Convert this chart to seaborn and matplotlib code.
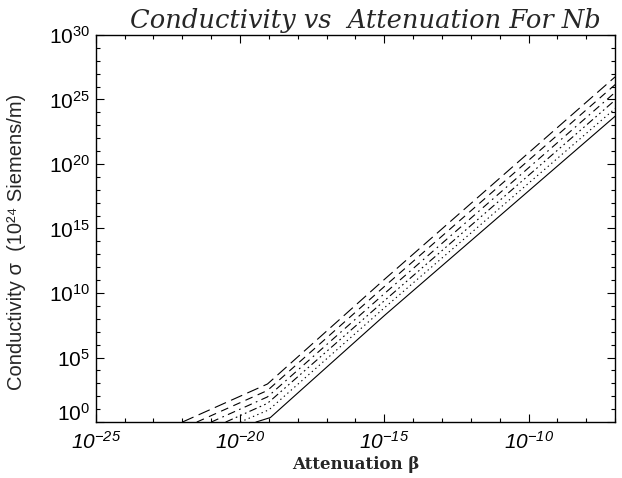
import numpy as np
import pandas as pd
import matplotlib
matplotlib.use("Agg")
import matplotlib.pyplot as plt
import matplotlib.ticker as mticker
import matplotlib.transforms as mtransforms
import seaborn as sns

# ---- data (log10 values of vertices) ----
curves = ["c1", "c2", "c3", "c4", "c5", "c6"]
log_beta = {
    "c1": [-22.0, -19.05, -15.0, -7.0],
    "c2": [-21.5, -19.05, -15.0, -7.0],
    "c3": [-21.0, -19.05, -15.0, -7.0],
    "c4": [-20.5, -19.05, -15.0, -7.0],
    "c5": [-20.0, -19.0, -15.0, -7.0],
    "c6": [-19.45, -18.95, -15.0, -7.0],
}
log_sigma = {
    "c1": [0.0, 2.95, 11.05, 26.75],
    "c2": [0.0, 2.45, 10.5, 26.15],
    "c3": [0.0, 1.95, 9.95, 25.55],
    "c4": [0.0, 1.45, 9.4, 24.95],
    "c5": [0.0, 0.95, 8.85, 24.3],
    "c6": [0.0, 0.35, 8.25, 23.7],
}
x_major = [1e-25, 1e-20, 1e-15, 1e-10]
y_major = [1e0, 1e5, 1e10, 1e15, 1e20, 1e25, 1e30]
title = "Conductivity vs  Attenuation For Nb"
xlabel = "Attenuation \u03b2"
ylabel = "Conductivity \u03c3  (10\u00b2\u2074 Siemens/m)"

rows = []
for c in curves:
    for lb, ls in zip(log_beta[c], log_sigma[c]):
        rows.append({"beta": 10.0 ** lb, "sigma": 10.0 ** ls, "curve": c})
df = pd.DataFrame(rows)

sns.set_theme(style="white")
plt.rcParams["font.family"] = ["Liberation Sans", "DejaVu Sans"]
plt.rcParams["mathtext.fontset"] = "custom"
plt.rcParams["mathtext.rm"] = "Liberation Sans"
plt.rcParams["mathtext.it"] = "Liberation Sans:italic"

fig = plt.figure(figsize=(6.22, 4.78), dpi=100)
ax = fig.add_axes([0.154, 0.117, 0.835, 0.81])

dashes = {
    "c1": (11, 5),
    "c2": (7, 5),
    "c3": (7, 4, 1.5, 4),
    "c4": (7, 3, 1.5, 3, 1.5, 3, 1.5, 3),
    "c5": (1.2, 3),
    "c6": "",
}
sns.lineplot(data=df, x="beta", y="sigma", style="curve", dashes=dashes,
             color="black", linewidth=0.8, legend=False, sort=False,
             estimator=None, ax=ax)

ax.set_xscale("log")
ax.set_yscale("log")
ax.set_xlim(1e-25, 1e-7)
ax.set_ylim(1e0, 1e30)

ax.xaxis.set_major_locator(mticker.FixedLocator(x_major))
ax.yaxis.set_major_locator(mticker.FixedLocator(y_major))
ax.xaxis.set_minor_locator(mticker.LogLocator(base=10, subs=(1.0,), numticks=100))
ax.yaxis.set_minor_locator(mticker.LogLocator(base=10, subs=(1.0,), numticks=100))
ax.xaxis.set_major_formatter(mticker.LogFormatterSciNotation(base=10))
ax.yaxis.set_major_formatter(mticker.LogFormatterSciNotation(base=10))
ax.xaxis.set_minor_formatter(mticker.NullFormatter())
ax.yaxis.set_minor_formatter(mticker.NullFormatter())

ax.tick_params(which="both", direction="in", top=True, right=True,
               bottom=True, left=True, colors="black", width=0.8)
ax.tick_params(which="major", length=6)
ax.tick_params(which="minor", length=3)
ax.tick_params(axis="y", labelsize=15, pad=4)
ax.tick_params(axis="x", labelsize=15, pad=6)
for lab in ax.get_xticklabels():
    lab.set_fontstyle("italic")

# the lowest y label sits a little above the bottom axis in the reference
fig.canvas.draw()
lab0 = ax.yaxis.get_major_ticks()[0].label1
lab0.set_transform(lab0.get_transform() +
                   mtransforms.ScaledTranslation(0, 0.10, fig.dpi_scale_trans))

for s in ax.spines.values():
    s.set_color("black")
    s.set_linewidth(1.0)

ax.set_title(title, fontsize=18.5, fontstyle="italic", family="DejaVu Serif",
             pad=5, x=0.52)
ax.set_xlabel(xlabel, fontsize=12, fontweight="bold", family="DejaVu Serif",
              labelpad=3)
ax.set_ylabel(ylabel, fontsize=14.5)
ax.yaxis.set_label_coords(-0.135, 0.465)

fig.savefig("out.png", dpi=100, facecolor="white")
